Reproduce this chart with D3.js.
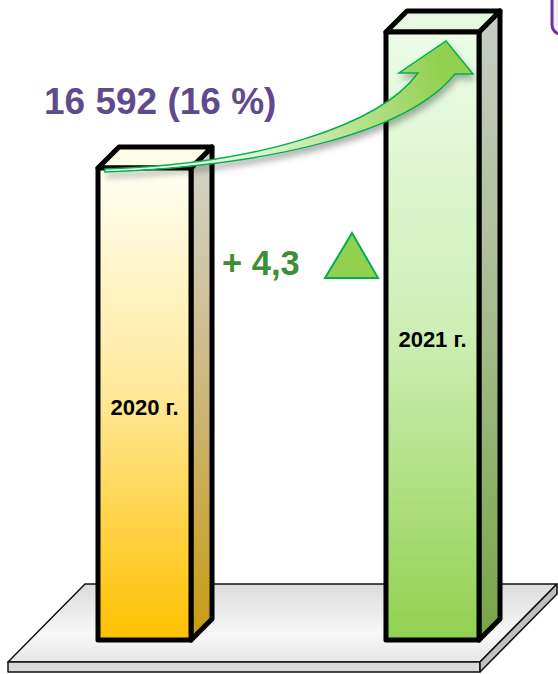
<!DOCTYPE html>
<html>
<head>
<meta charset="utf-8">
<script src="https://cdn.jsdelivr.net/npm/d3@7"></script>
<style>
  html, body { margin: 0; padding: 0; background: #fff; }
  svg { display: block; font-family: "Liberation Sans", Arial, sans-serif; }
</style>
</head>
<body>
<div id="chart"></div>
<script>
const categories = ["2020 г.", "2021 г."];
const values = [103700, 120292];
const changeLabel = "16 592 (16 %)";
const growthLabel = "+ 4,3";

const width = 558, height = 674;
const baseY = 640;     // where bars stand on the platform
const depth = 21;      // 3d offset

const svg = d3.select("#chart").append("svg")
  .attr("width", width)
  .attr("height", height);

const defs = svg.append("defs");

const grad = (id, stops, x1, y1, x2, y2) => {
  const g = defs.append("linearGradient").attr("id", id)
    .attr("x1", x1 || 0).attr("y1", y1 || 0).attr("x2", x2 || 0).attr("y2", y2 || 1);
  stops.forEach(s => g.append("stop").attr("offset", s[0]).attr("stop-color", s[1]));
  return g;
};

grad("front0", [[0, "#fffff2"], [0.45, "#ffeaa0"], [1, "#ffc000"]]);
grad("side0", [[0, "#d4d4cc"], [0.5, "#cdb67a"], [1, "#c89b10"]]);
grad("front1", [[0, "#ecfce8"], [0.5, "#cdeeb4"], [1, "#92d050"]]);
grad("side1", [[0, "#c8cdc4"], [0.5, "#a4bc8c"], [1, "#76a545"]]);
grad("plat", [[0, "#dcdcdc"], [0.65, "#f8f8f8"], [1, "#e6e6e6"]]);

const colors = [
  { front: "url(#front0)", side: "url(#side0)", top: "#fdfde8" },
  { front: "url(#front1)", side: "url(#side1)", top: "#e6f8df" }
];

const shadow = defs.append("filter").attr("id", "shadow")
  .attr("x", "-20%").attr("y", "-20%").attr("width", "140%").attr("height", "160%");
shadow.append("feDropShadow").attr("dx", 2).attr("dy", 5).attr("stdDeviation", 3)
  .attr("flood-color", "#000").attr("flood-opacity", 0.3);

// scales
const x = d3.scaleBand().domain(categories).range([98, 479]).paddingInner(0.677).paddingOuter(0);
const y = d3.scaleLinear().domain([46116, 120292]).range([baseY, 32]);
const bw = x.bandwidth();

// platform
const plat = svg.append("g").attr("stroke", "#111").attr("stroke-width", 1.5).attr("stroke-linejoin", "round");
plat.append("path").attr("d", "M85,584 L557,584 L480,662 L8,662 Z").attr("fill", "url(#plat)");
plat.append("path").attr("d", "M8,662 L480,662 L480,672 L8,672 Z").attr("fill", "#d9d9d9");
plat.append("path").attr("d", "M480,662 L557,584 L557,594 L480,672 Z").attr("fill", "#c0c0c0");

// purple box fragment in the corner
svg.append("rect").attr("x", 552).attr("y", -12).attr("width", 30).attr("height", 46).attr("rx", 9)
  .attr("fill", "#f3eefa").attr("stroke", "#7030a0").attr("stroke-width", 3);

// bars
const bars = svg.selectAll("g.bar").data(categories.map((c, i) => ({ c, v: values[i], i })))
  .enter().append("g").attr("class", "bar")
  .attr("stroke", "#000").attr("stroke-width", 5).attr("stroke-linejoin", "round");

bars.each(function (d) {
  const g = d3.select(this);
  const x0 = x(d.c), top = y(d.v), x1 = x0 + bw;
  g.append("path")
    .attr("d", `M${x1},${top} L${x1 + depth},${top - depth} L${x1 + depth},${baseY - depth} L${x1},${baseY} Z`)
    .attr("fill", colors[d.i].side);
  g.append("path")
    .attr("d", `M${x0},${top} L${x0 + depth},${top - depth} L${x1 + depth},${top - depth} L${x1},${top} Z`)
    .attr("fill", colors[d.i].top);
  g.append("rect").attr("x", x0).attr("y", top).attr("width", bw).attr("height", baseY - top)
    .attr("fill", colors[d.i].front);
  g.append("text")
    .attr("x", x0 + bw / 2).attr("y", (top + baseY) / 2 + 11)
    .attr("text-anchor", "middle").attr("stroke", "none")
    .attr("font-size", 22).attr("font-weight", "bold").attr("fill", "#000")
    .text(d.c);
});

// curved arrow from bar 1 top to bar 2 top
const sx = x(categories[0]) + 7, sy = y(values[0]) + 2;
const tx = x(categories[1]) + 60, ty = y(values[1]) + 9;
grad("arrowGrad", [[0, "#ffffff"], [0.45, "#dcf2cc"], [1, "#92d050"]], sx, sy, tx, ty + 40)
  .attr("gradientUnits", "userSpaceOnUse");

const arrowPath = d3.path();
arrowPath.moveTo(sx, sy - 1);
arrowPath.bezierCurveTo(sx + 155, sy - 6, tx - 66, ty + 84, tx - 28, ty + 32);
arrowPath.lineTo(tx - 47, ty + 32);
arrowPath.lineTo(tx, ty);
arrowPath.lineTo(tx + 27, ty + 33);
arrowPath.lineTo(tx + 9, ty + 33);
arrowPath.bezierCurveTo(tx - 36, ty + 89, tx - 166, ty + 124, sx, sy + 2);
arrowPath.closePath();

svg.append("path").attr("d", arrowPath.toString())
  .attr("fill", "url(#arrowGrad)").attr("stroke", "#00b050").attr("stroke-width", 1.5)
  .attr("stroke-linejoin", "miter").attr("filter", "url(#shadow)");

// annotations
svg.append("text").attr("x", 44).attr("y", 114)
  .attr("font-size", 37).attr("font-weight", "bold").attr("fill", "#5f4b8b")
  .text(changeLabel);

svg.append("text").attr("x", 222).attr("y", 275)
  .attr("font-size", 34.5).attr("font-weight", "bold").attr("fill", "#3e8e35")
  .text(growthLabel);

svg.append("path").attr("d", "M325,278 L378,278 L352,233 Z")
  .attr("fill", "#92d050").attr("stroke", "#00b050").attr("stroke-width", 2)
  .attr("stroke-linejoin", "miter");
</script>
</body>
</html>
